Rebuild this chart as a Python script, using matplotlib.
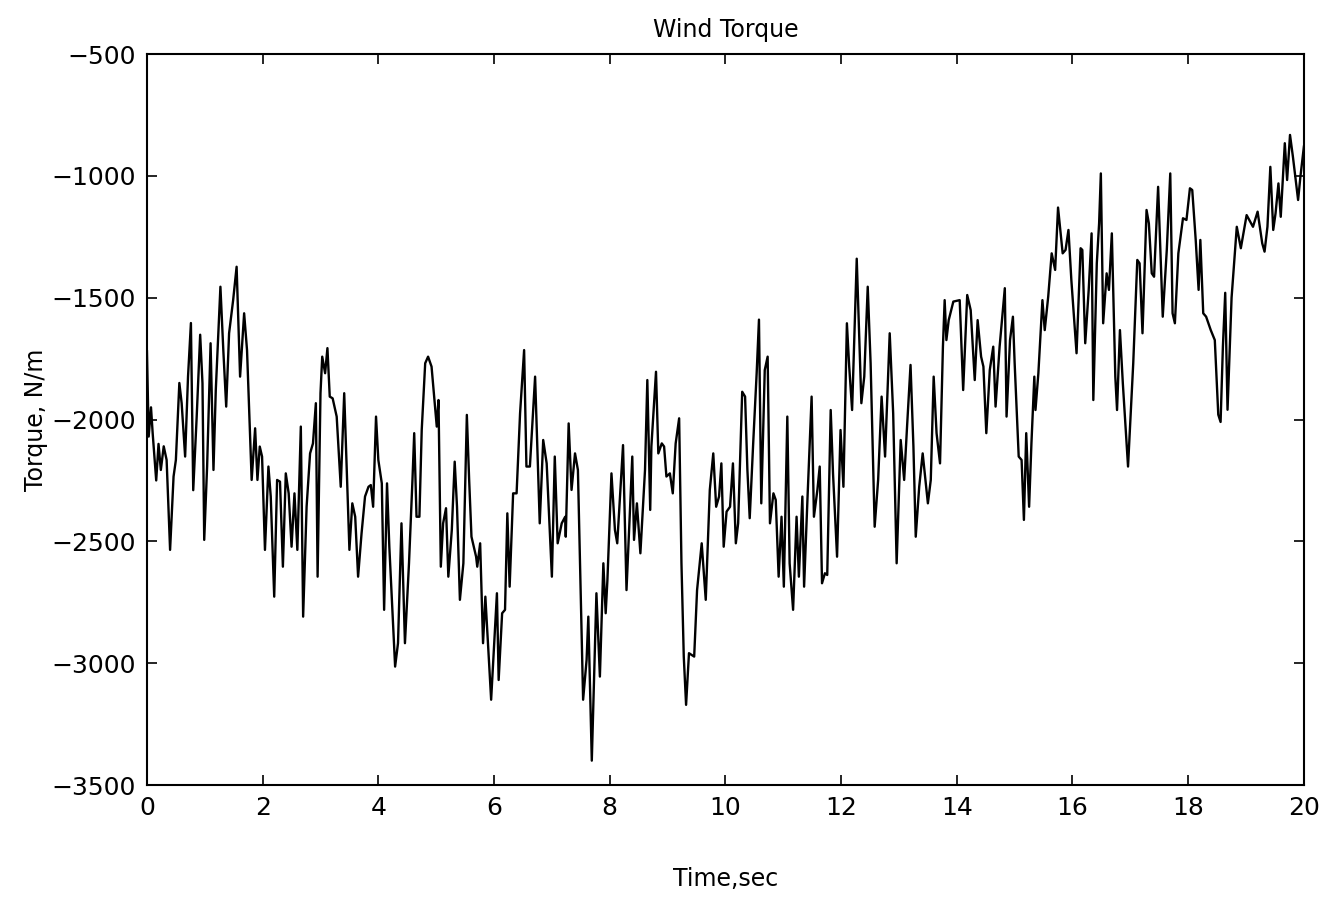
import matplotlib
matplotlib.use("Agg")
import matplotlib.pyplot as plt

time_sec = [
    0.00, 0.03, 0.07, 0.10, 0.16, 0.20, 0.24, 0.29, 0.34, 0.40, 0.46, 0.50, 0.56, 0.60, 0.66, 0.71,
    0.76, 0.80, 0.86, 0.92, 0.96, 0.99, 1.04, 1.10, 1.15, 1.19, 1.27, 1.32, 1.37, 1.42, 1.49, 1.55,
    1.61, 1.68, 1.73, 1.81, 1.87, 1.91, 1.95, 1.99, 2.04, 2.10, 2.14, 2.20, 2.25, 2.30, 2.35, 2.40,
    2.45, 2.50, 2.55, 2.60, 2.66, 2.70, 2.76, 2.82, 2.87, 2.92, 2.95, 3.00, 3.03, 3.08, 3.12, 3.16,
    3.21, 3.28, 3.35, 3.41, 3.44, 3.50, 3.55, 3.60, 3.65, 3.71, 3.77, 3.83, 3.87, 3.91, 3.96, 4.00,
    4.06, 4.10, 4.15, 4.19, 4.29, 4.34, 4.40, 4.43, 4.46, 4.53, 4.59, 4.62, 4.66, 4.71, 4.75, 4.81,
    4.86, 4.92, 4.98, 5.01, 5.04, 5.08, 5.12, 5.17, 5.21, 5.27, 5.32, 5.36, 5.41, 5.47, 5.53, 5.57,
    5.61, 5.69, 5.71, 5.76, 5.81, 5.85, 5.95, 6.05, 6.08, 6.14, 6.19, 6.23, 6.27, 6.33, 6.39, 6.45,
    6.52, 6.56, 6.62, 6.71, 6.79, 6.85, 6.91, 7.00, 7.05, 7.10, 7.17, 7.23, 7.24, 7.29, 7.34, 7.40,
    7.45, 7.54, 7.60, 7.63, 7.69, 7.77, 7.83, 7.89, 7.93, 7.96, 8.03, 8.09, 8.13, 8.23, 8.29, 8.39,
    8.42, 8.47, 8.53, 8.61, 8.65, 8.70, 8.72, 8.80, 8.84, 8.90, 8.94, 8.98, 9.04, 9.09, 9.14, 9.20,
    9.24, 9.28, 9.32, 9.37, 9.46, 9.51, 9.59, 9.66, 9.73, 9.79, 9.84, 9.89, 9.93, 9.97, 10.02, 10.08,
    10.13, 10.18, 10.22, 10.29, 10.34, 10.38, 10.42, 10.48, 10.54, 10.58, 10.62, 10.68, 10.73, 10.77, 10.83, 10.87,
    10.92, 10.97, 11.01, 11.07, 11.11, 11.17, 11.23, 11.27, 11.33, 11.36, 11.42, 11.49, 11.53, 11.59, 11.63, 11.67,
    11.72, 11.76, 11.82, 11.86, 11.93, 11.99, 12.04, 12.10, 12.14, 12.19, 12.27, 12.35, 12.40, 12.46, 12.51, 12.58,
    12.64, 12.70, 12.76, 12.84, 12.90, 12.96, 13.03, 13.09, 13.14, 13.20, 13.25, 13.29, 13.35, 13.41, 13.50, 13.55,
    13.60, 13.65, 13.71, 13.76, 13.79, 13.82, 13.86, 13.94, 14.05, 14.11, 14.18, 14.24, 14.31, 14.36, 14.42, 14.46,
    14.51, 14.57, 14.63, 14.67, 14.74, 14.83, 14.86, 14.92, 14.97, 15.00, 15.07, 15.12, 15.16, 15.20, 15.25, 15.29,
    15.34, 15.36, 15.41, 15.48, 15.52, 15.58, 15.64, 15.70, 15.75, 15.83, 15.88, 15.93, 15.98, 16.07, 16.14, 16.17,
    16.22, 16.28, 16.33, 16.36, 16.42, 16.46, 16.49, 16.53, 16.59, 16.63, 16.68, 16.74, 16.77, 16.82, 16.87, 16.96,
    17.05, 17.12, 17.16, 17.21, 17.28, 17.32, 17.37, 17.41, 17.48, 17.56, 17.63, 17.69, 17.73, 17.77, 17.83, 17.91,
    17.97, 18.03, 18.07, 18.13, 18.18, 18.21, 18.26, 18.31, 18.39, 18.46, 18.52, 18.56, 18.60, 18.64, 18.68, 18.75,
    18.84, 18.91, 19.01, 19.12, 19.20, 19.28, 19.32, 19.37, 19.42, 19.47, 19.51, 19.56, 19.60, 19.67, 19.71, 19.76,
    19.81, 19.90, 19.94, 20.00,
]

torque = [
    -1720, -2070, -1950, -2060, -2250, -2100, -2207, -2110, -2166, -2535, -2234, -2166, -1850, -1933, -2152, -1824,
    -1604, -2290, -1988, -1652, -1851, -2494, -2193, -1687, -2207, -1879, -1455, -1715, -1947, -1646, -1510, -1373,
    -1824, -1564, -1715, -2248, -2036, -2248, -2111, -2152, -2535, -2193, -2316, -2727, -2248, -2255, -2604, -2221,
    -2303, -2522, -2303, -2535, -2029, -2809, -2358, -2139, -2098, -1933, -2645, -1892, -1742, -1810, -1707, -1906,
    -1913, -1988, -2276, -1892, -2111, -2535, -2344, -2399, -2645, -2467, -2316, -2276, -2269, -2358, -1988, -2166,
    -2262, -2781, -2262, -2522, -3014, -2918, -2426, -2672, -2918, -2590, -2248, -2056, -2399, -2399, -2043, -1769,
    -1742, -1783, -1947, -2029, -1920, -2604, -2426, -2364, -2645, -2453, -2173, -2358, -2740, -2590, -1981, -2248,
    -2481, -2563, -2604, -2508, -2918, -2727, -3150, -2713, -3069, -2795, -2781, -2385, -2686, -2303, -2303, -1975,
    -1715, -2193, -2193, -1824, -2426, -2084, -2180, -2645, -2152, -2508, -2426, -2399, -2481, -2016, -2289, -2139,
    -2207, -3150, -2987, -2809, -3400, -2713, -3055, -2590, -2795, -2659, -2221, -2453, -2508, -2105, -2700, -2152,
    -2494, -2344, -2549, -2207, -1838, -2371, -2111, -1804, -2139, -2098, -2111, -2234, -2221, -2303, -2098, -1995,
    -2590, -2973, -3171, -2959, -2973, -2700, -2508, -2740, -2289, -2139, -2358, -2316, -2180, -2522, -2378, -2358,
    -2180, -2508, -2426, -1886, -1906, -2207, -2405, -2098, -1810, -1590, -2344, -1797, -1742, -2426, -2303, -2330,
    -2645, -2399, -2686, -1988, -2590, -2781, -2399, -2645, -2316, -2686, -2316, -1906, -2399, -2289, -2193, -2672,
    -2631, -2638, -1961, -2221, -2563, -2043, -2276, -1605, -1783, -1961, -1340, -1933, -1824, -1455, -1769, -2440,
    -2248, -1906, -2152, -1646, -1975, -2590, -2084, -2248, -2029, -1776, -2111, -2481, -2276, -2139, -2344, -2248,
    -1824, -2056, -2180, -1701, -1510, -1674, -1592, -1516, -1510, -1879, -1489, -1551, -1838, -1592, -1742, -1783,
    -2056, -1797, -1701, -1947, -1701, -1461, -1988, -1674, -1578, -1769, -2152, -2166, -2412, -2056, -2358, -2098,
    -1824, -1961, -1810, -1510, -1633, -1496, -1318, -1386, -1130, -1318, -1304, -1222, -1427, -1728, -1297, -1304,
    -1687, -1468, -1236, -1920, -1359, -1195, -990, -1605, -1400, -1468, -1236, -1824, -1961, -1633, -1851, -2193,
    -1769, -1345, -1359, -1646, -1140, -1195, -1400, -1414, -1045, -1578, -1304, -990, -1564, -1605, -1318, -1174,
    -1181, -1051, -1058, -1263, -1468, -1263, -1564, -1578, -1633, -1674, -1980, -2010, -1700, -1480, -1960, -1500,
    -1209, -1297, -1161, -1209, -1147, -1277, -1311, -1209, -963, -1222, -1154, -1031, -1168, -866, -1017, -832,
    -921, -1099, -1003, -880,
]

x_ticks = [0, 2, 4, 6, 8, 10, 12, 14, 16, 18, 20]
y_ticks = [-3500, -3000, -2500, -2000, -1500, -1000, -500]

plt.rcParams['font.family'] = ['DejaVu Sans']
fig = plt.figure(figsize=(13.42, 8.99), dpi=100)
ax = fig.add_axes([0.1095, 0.1268, 0.8621, 0.8131])
ax.plot(time_sec, torque, color='black', linewidth=1.7)
ax.set_xlim(0, 20)
ax.set_ylim(-3500, -500)
ax.set_xticks(x_ticks)
ax.set_yticks(y_ticks)
ax.set_yticklabels([f"\u2212{abs(v)}" for v in y_ticks])
ax.tick_params(direction='in', length=7, width=1.2, top=True, right=True,
               labelsize=18, pad=8)
for s in ax.spines.values():
    s.set_linewidth(1.5)
ax.set_title('Wind Torque', fontsize=17, pad=12)
ax.set_xlabel('Time,sec', fontsize=17, labelpad=34)
ax.set_ylabel('Torque, N/m', fontsize=17, labelpad=2)
fig.savefig('out.png', dpi=100)
